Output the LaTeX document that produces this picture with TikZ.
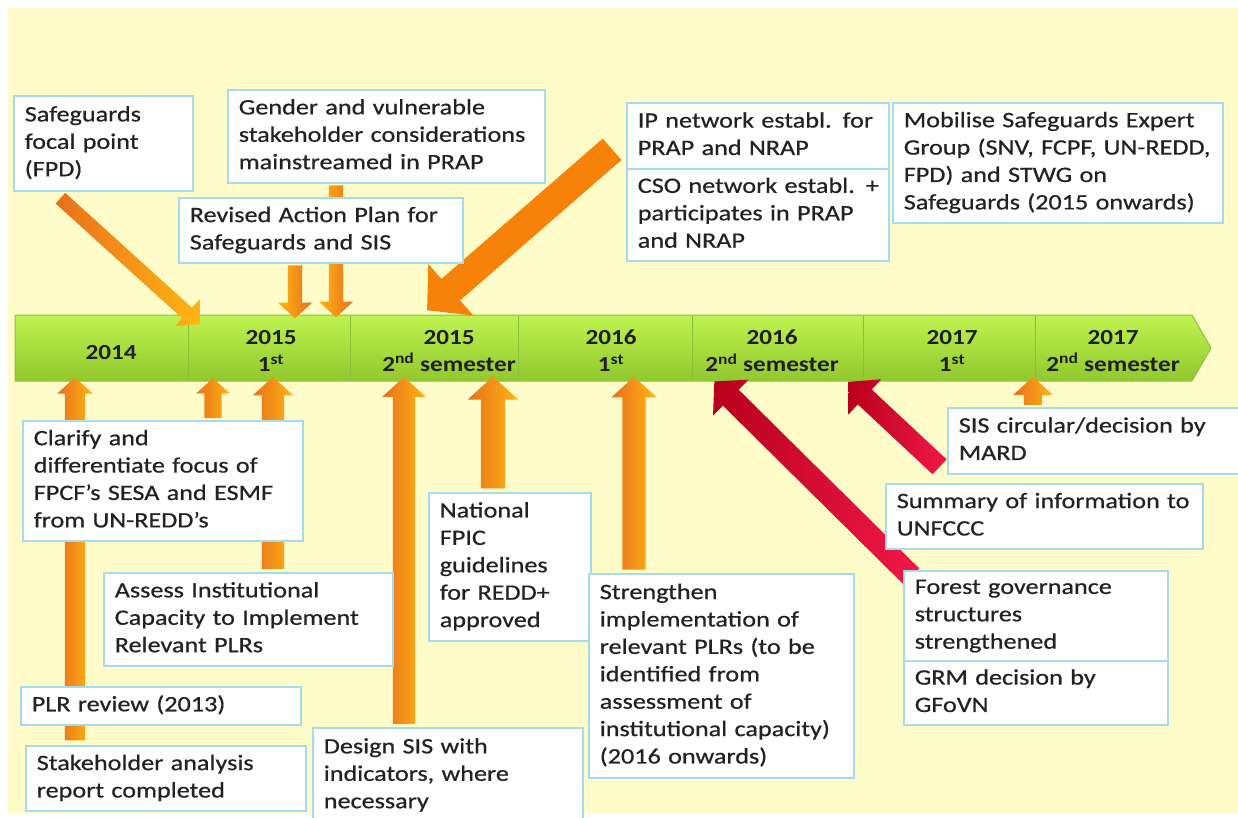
\documentclass[tikz,border=0pt]{standalone}
\usepackage{fontspec}
\setmainfont{Carlito}
\newfontfamily\boxfont[FakeStretch=1.19, FakeBold=0.6]{Carlito}
\newfontfamily\barfont[FakeStretch=1.17]{Carlito}
\usetikzlibrary{shapes.arrows,calc}
\definecolor{bg}{HTML}{FFFCCA}
\definecolor{boxline}{HTML}{A4DCEE}
\definecolor{txt}{HTML}{222222}
\definecolor{org1}{HTML}{E8701C}
\definecolor{org2}{HTML}{FFB514}
\definecolor{orgbig}{HTML}{F7820A}
\definecolor{red1}{HTML}{B8001C}
\definecolor{red2}{HTML}{F01848}
\definecolor{grn1}{HTML}{BFF350}
\definecolor{grn2}{HTML}{92C82E}
\definecolor{grnline}{HTML}{86C23C}
\newcommand\lns[1]{\begin{tabular}{@{}l@{}}#1\end{tabular}}
\newcommand\blk[5]{\path let \p1=(#1), \p2=(#2), \n1={atan2(\y2-\y1,\x2-\x1)}, \n2={veclen(\x2-\x1,\y2-\y1)} in node[single arrow, inner xsep=0pt, inner ysep=#3, text height=0pt, text depth=0pt, minimum width=0pt, minimum height=\n2, single arrow head extend=#4, single arrow tip angle=95, rotate=\n1, #5] at ($(#1)!0.5!(#2)$) {};}
\begin{document}
\begin{tikzpicture}[x=1pt,y=-1pt,
 box/.style={draw=boxline, line width=1.6pt, fill=white, anchor=north west, inner xsep=11pt, inner ysep=3pt, align=left, font=\boxfont\fontsize{22}{27.4}\selectfont, text=txt},
 yr/.style={font=\barfont\bfseries\fontsize{21.5}{27}\selectfont, text=black!88, align=center},
 oup/.style={left color=org1, right color=org2, draw=none},
 odown/.style={left color=org2, right color=org1, draw=none},
 bigarr/.style={fill=orgbig, draw=none},
 rarr/.style={left color=red1, right color=red2, draw=none},
]
\useasboundingbox (0,0) rectangle (1238,817);
\fill[bg] (8,8) rectangle (1238,813);

% timeline bar
\shade[top color=grn1, bottom color=grn2, draw=grnline, line width=1pt]
  (15,315) -- (1192,315) -- (1211,348) -- (1192,381) -- (15,381) -- cycle;
\foreach \x in {188,350,518,692,863,1035}
  \draw[grnline, line width=1pt] (\x,316) -- (\x,380);
\node[yr] (y14) at (111,353) {2014};
\node[yr] (y15a) at (271,351) {2015\\1\textsuperscript{st}};
\node[yr] (y15b) at (449,351) {2015\\2\textsuperscript{nd} semester};
\node[yr] (y16a) at (611,351) {2016\\1\textsuperscript{st}};
\node[yr] (y16b) at (772,351) {2016\\2\textsuperscript{nd} semester};
\node[yr] (y17a) at (952,351) {2017\\1\textsuperscript{st}};
\node[yr] (y17b) at (1113,351) {2017\\2\textsuperscript{nd} semester};

% arrow end points
\coordinate (a1s) at (58,196);  \coordinate (a1e) at (197,322);
\coordinate (a2s) at (295,262); \coordinate (a2e) at (295,315);
\coordinate (a3s) at (336,182); \coordinate (a3e) at (336,314);
\coordinate (a4s) at (617,145); \coordinate (a4e) at (432,306);
\coordinate (b1s) at (75,745);  \coordinate (b1e) at (75,382);
\coordinate (b2s) at (213,422); \coordinate (b2e) at (213,382);
\coordinate (b3s) at (273,574); \coordinate (b3e) at (273,382);
\coordinate (b4s) at (404,729); \coordinate (b4e) at (404,382);
\coordinate (b5s) at (493,494); \coordinate (b5e) at (493,382);
\coordinate (b6s) at (634,575); \coordinate (b6e) at (634,382);
\coordinate (b7s) at (1033,409); \coordinate (b7e) at (1033,381);
\coordinate (r1s) at (915,580); \coordinate (r1e) at (718,385);
\coordinate (r2s) at (943,470); \coordinate (r2e) at (852,385);

\blk{a1s}{a1e}{7pt}{11pt}{oup}
\blk{a2s}{a2e}{7pt}{10pt}{odown}
\blk{a3s}{a3e}{7pt}{10pt}{odown}
\blk{a4s}{a4e}{14pt}{20pt}{bigarr}
\blk{b1s}{b1e}{10pt}{7.5pt}{oup}
\blk{b2s}{b2e}{8.5pt}{8pt}{oup}
\blk{b3s}{b3e}{11pt}{9pt}{oup}
\blk{b4s}{b4e}{11pt}{10.5pt}{oup}
\blk{b5s}{b5e}{12pt}{13pt}{oup}
\blk{b6s}{b6e}{11.5pt}{11pt}{oup}
\blk{b7s}{b7e}{9pt}{10.5pt}{oup}
\blk{r1s}{r1e}{11pt}{14pt}{rarr}
\blk{r2s}{r2e}{10pt}{14pt}{rarr}

% boxes above the bar
\node[box, minimum width=179pt, minimum height=95pt, text width=157pt] (sfp) at (13,95)
  {\lns{Safeguards\\focal point\\(FPD)}};
\node[box, minimum width=317pt, minimum height=93pt, text width=295pt] (gen) at (227,89)
  {\lns{Gender and vulnerable\\stakeholder considerations\\mainstreamed in PRAP}};
\node[box, minimum width=284pt, minimum height=65pt, text width=262pt] (rev) at (178,197)
  {\lns{Revised Action Plan for\\Safeguards and SIS}};
\node[box, minimum width=262pt, minimum height=66pt, text width=240pt] (ipn) at (626,102)
  {\lns{IP network establ. for\\PRAP and NRAP}};
\node[box, minimum width=262pt, minimum height=92pt, text width=240pt] (cso) at (626,168)
  {\lns{CSO network establ. +\\participates in PRAP\\and NRAP}};
\node[box, minimum width=330pt, minimum height=120pt, text width=308pt] (mob) at (892,102)
  {\lns{Mobilise Safeguards Expert\\Group (SNV, FCPF, UN-REDD,\\FPD) and STWG on\\Safeguards (2015 onwards)}};

% boxes below the bar
\node[box, minimum width=280pt, minimum height=120pt, text width=258pt] (cla) at (22,420)
  {\lns{Clarify and\\differentiate focus of\\FPCF’s SESA and ESMF\\from UN-REDD’s}};
\node[box, minimum width=289pt, minimum height=93pt, text width=267pt] (ass) at (103,572)
  {\lns{Assess Institutional\\Capacity to Implement\\Relevant PLRs}};
\node[box, minimum width=280pt, minimum height=38pt, text width=258pt] (plr) at (20,686)
  {\lns{PLR review (2013)}};
\node[box, minimum width=280pt, minimum height=65pt, text width=258pt] (stk) at (25,745)
  {\lns{Stakeholder analysis\\report completed}};
\node[box, minimum width=270pt, minimum height=95pt, text width=248pt] (des) at (312,727)
  {\lns{Design SIS with\\indicators, where\\necessary}};
\node[box, minimum width=162pt, minimum height=148pt, text width=140pt] (nat) at (428,492)
  {\lns{National\\FPIC\\guidelines\\for REDD+\\approved}};
\node[box, minimum width=265pt, minimum height=204pt, text width=243pt] (str) at (588,573)
  {\lns{Strengthen\\implementation of\\relevant PLRs (to be\\identified from\\assessment of\\institutional capacity)\\(2016 onwards)}};
\node[box, minimum width=300pt, minimum height=66pt, text width=278pt] (sis) at (947,407)
  {\lns{SIS circular/decision by\\MARD}};
\node[box, minimum width=317pt, minimum height=65pt, text width=295pt] (sum) at (885,483)
  {\lns{Summary of information to\\UNFCCC}};
\node[box, minimum width=264pt, minimum height=90pt, text width=242pt] (for) at (903,570)
  {\lns{Forest governance\\structures\\strengthened}};
\node[box, minimum width=264pt, minimum height=64pt, text width=242pt] (grm) at (903,660)
  {\lns{GRM decision by\\GFoVN}};
\end{tikzpicture}
\end{document}
